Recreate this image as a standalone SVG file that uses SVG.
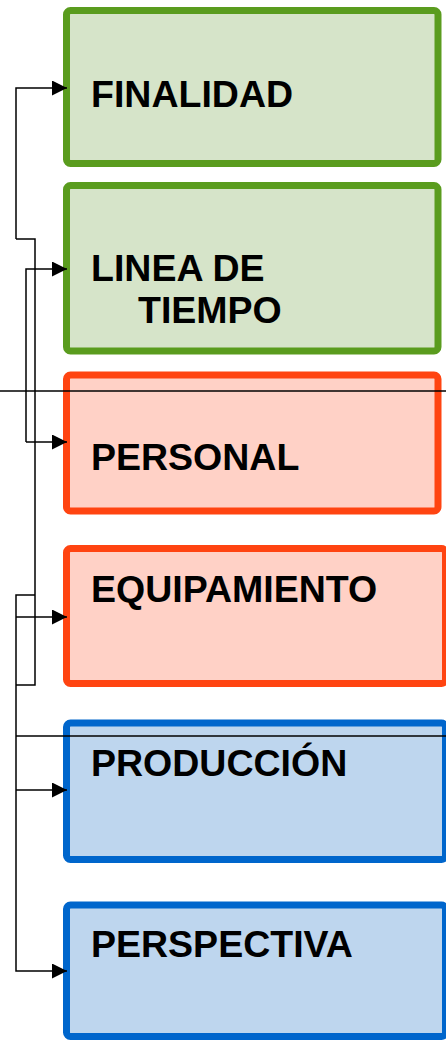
<svg xmlns="http://www.w3.org/2000/svg" width="446" height="1041" viewBox="0 0 446 1041">
<style>
.box{stroke-width:7}
.g{fill:#D6E4C9;stroke:#5A9C1E}
.r{fill:#FFD1C6;stroke:#FF4411}
.b{fill:#BED6EE;stroke:#0066CC}
.t{font-family:"Liberation Sans",Arial,sans-serif;font-weight:bold;font-size:37.5px;fill:#000}
.c{fill:none;stroke:#000;stroke-width:1.5}
</style>
<defs>
<marker id="ah" markerWidth="15" markerHeight="15" refX="15" refY="7.5" orient="auto" markerUnits="userSpaceOnUse">
<path d="M0,0 L15,7.5 L0,15 Z" fill="#000"/>
</marker>
</defs>
<g id="finalidad">
<rect class="box g" x="66.5" y="10.5" width="371.5" height="153" rx="4"/>
<text class="t" x="91" y="107">FINALIDAD</text>
</g>
<g id="linea-de-tiempo">
<rect class="box g" x="66.5" y="185.5" width="371.5" height="165.5" rx="4"/>
<text class="t" x="91" y="281">LINEA DE</text>
<text class="t" x="138" y="323">TIEMPO</text>
</g>
<g id="personal">
<rect class="box r" x="66.5" y="375" width="371.5" height="136" rx="4"/>
<text class="t" x="91" y="470">PERSONAL</text>
</g>
<g id="equipamiento">
<rect class="box r" x="66.5" y="548.5" width="379" height="135" rx="4"/>
<text class="t" x="91" y="602">EQUIPAMIENTO</text>
</g>
<g id="produccion">
<rect class="box b" x="66.5" y="723" width="379" height="136.5" rx="4"/>
<text class="t" x="91" y="776">PRODUCCIÓN</text>
</g>
<g id="perspectiva">
<rect class="box b" x="66.5" y="905" width="379" height="131.5" rx="4"/>
<text class="t" x="91" y="957">PERSPECTIVA</text>
</g>
<g id="connectors">
<path class="c" d="M16,239 L16,88 L67,88" marker-end="url(#ah)"/>
<path class="c" d="M16,239 L35,239 L35,685 L16,685"/>
<path class="c" d="M26,442 L26,269 L67,269" marker-end="url(#ah)"/>
<path class="c" d="M26,442 L67,442" marker-end="url(#ah)"/>
<path class="c" d="M35,595 L16,595 L16,971 L67,971" marker-end="url(#ah)"/>
<path class="c" d="M16,617 L67,617" marker-end="url(#ah)"/>
<path class="c" d="M16,790 L67,790" marker-end="url(#ah)"/>
<path class="c" d="M0,391 L446,391"/>
<path class="c" d="M16,736 L446,736"/>
</g>
</svg>
